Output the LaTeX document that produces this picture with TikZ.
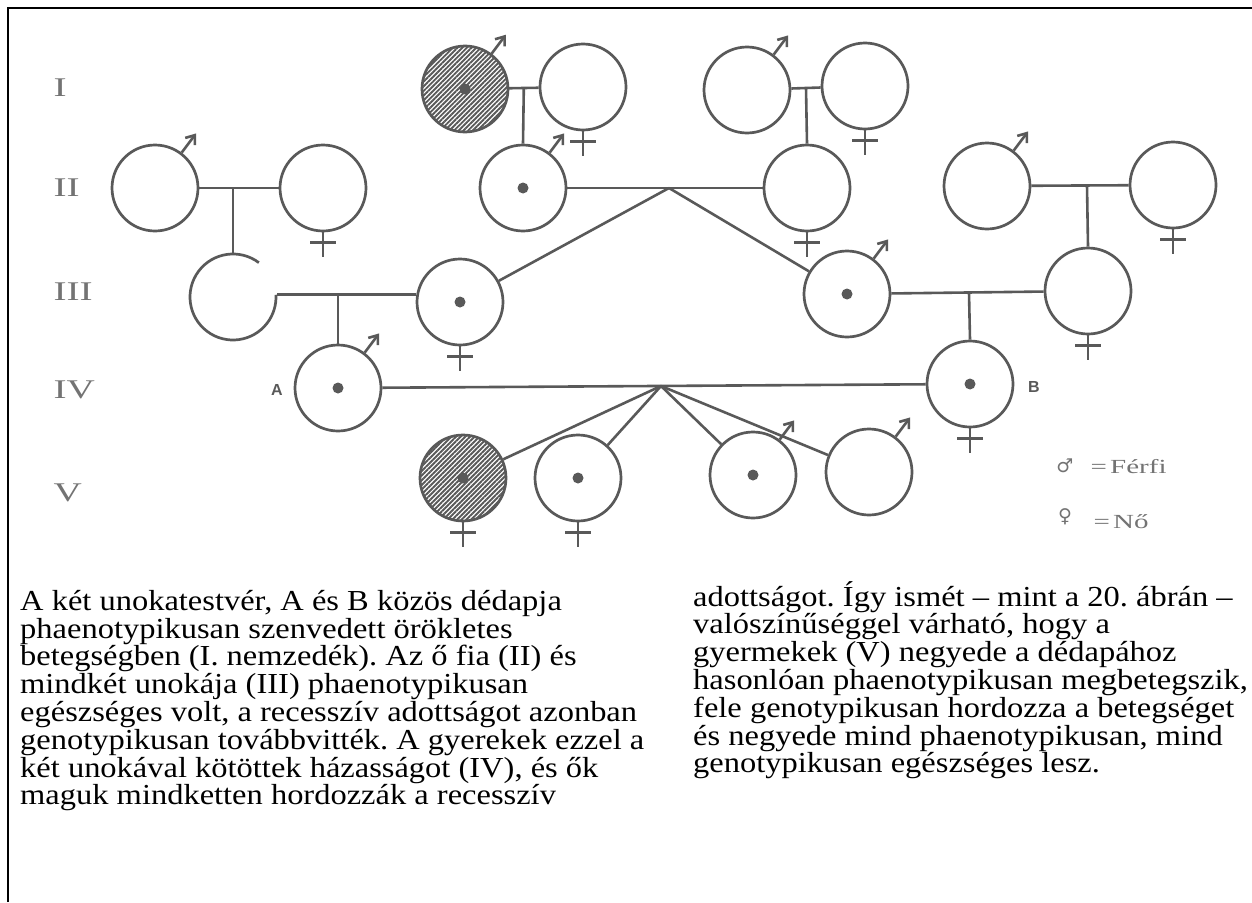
\documentclass[tikz,border=0pt]{standalone}
\usepackage{fontspec}
\setmainfont{Liberation Serif}
\newfontfamily\bodyfont[FakeStretch=1.12]{Liberation Serif}
\newfontfamily\figfont[FakeStretch=1.45]{Liberation Serif}
\newfontfamily\letterfont{Liberation Sans}
\newfontfamily\markfont{DejaVu Sans}
\usetikzlibrary{arrows.meta, patterns.meta, calc}
\definecolor{linegrey}{gray}{0.35}
\definecolor{labelgrey}{gray}{0.45}
\tikzset{
    person/.style = {circle, draw=linegrey, line width=2.7pt, minimum size=86pt, inner sep=0pt},
    affected/.style = {person, pattern={Lines[angle=45, distance=3.3pt, line width=1.9pt]}, pattern color=linegrey},
    link/.style = {draw=linegrey, line width=2.6pt},
    sexmark/.style = {draw=linegrey, line width=2.6pt},
    generation/.style = {anchor=west, text=labelgrey, font=\figfont\fontsize{27}{27}\selectfont},
    letter/.style = {text=linegrey, font=\letterfont\bfseries\fontsize{16}{16}\selectfont},
    legend-sign/.style = {text=labelgrey, font=\markfont\fontsize{19}{19}\selectfont},
    legend-text/.style = {anchor=west, text=labelgrey, font=\figfont\fontsize{20}{20}\selectfont},
    body-text/.style = {anchor=north west, align=left, inner sep=0pt, font=\bodyfont\fontsize{29}{27.8}\selectfont\frenchspacing},
}
\newcommand\malemark[1]{\draw[sexmark, -{Straight Barb[length=8pt, width=12pt]}] (#1.53) -- ++(53:24pt);}
\newcommand\femalemark[1]{\draw[sexmark] (#1.south) -- ++(0pt,-25pt);
    \draw[sexmark] ($(#1.south)+(-13pt,-10pt)$) -- ++(26pt,0pt);}
\newcommand\carrier[1]{\fill[linegrey] (#1.center) circle[radius=5.5pt];}

\begin{document}
\begin{tikzpicture}[x=1pt, y=-1pt]
\useasboundingbox (0,0) rectangle (1252,902);
\draw[line width=2.2pt] (8,902) -- (8,8) -- (1252,8);

% generations
\node[generation] (genI) at (50,88) {I};
\node[generation] (genII) at (50,188) {II};
\node[generation] (genIII) at (50,292) {III};
\node[generation] (genIV) at (50,390) {IV};
\node[generation] (genV) at (50,493) {V};

% I
\node[affected] (I1) at (465,89) {};
\node[person] (I2) at (583,87) {};
\node[person] (I3) at (747,90) {};
\node[person] (I4) at (865,86) {};

% II
\node[person] (II1) at (155,188) {};
\node[person] (II2) at (323,188) {};
\node[person] (II3) at (523,188) {};
\node[person] (II4) at (807,188) {};
\node[person] (II5) at (987,186) {};
\node[person] (II6) at (1173,185) {};

% III
\node[person, draw=none] (III1) at (233,297) {};
\draw[linegrey, line width=2.7pt] (III1.center) ++(53:43pt) arc[start angle=53, end angle=363, radius=43pt];
\node[person] (III2) at (460,302) {};
\node[person] (III3) at (847,294) {};
\node[person] (III4) at (1088,291) {};

% IV
\node[person] (IVA) at (338,388) {};
\node[person] (IVB) at (970,384) {};
\node[letter] (labelA) at (277,390) {A};
\node[letter] (labelB) at (1034,387) {B};

% V
\node[affected] (V1) at (463,478) {};
\node[person] (V2) at (578,478) {};
\node[person] (V3) at (753,475) {};
\node[person] (V4) at (869,472) {};

% marriages and descent
\coordinate (m-I12) at ($(I1.east)!0.5!(I2.west)$);
\coordinate (m-I34) at ($(I3.east)!0.5!(I4.west)$);
\coordinate (m-II12) at (233,188);
\coordinate (m-II34) at (669,188);
\coordinate (m-II56) at (1087,186);
\coordinate (m-III12) at (338,295);
\coordinate (m-III34) at (969,293);
\coordinate (m-IV) at (661,386);

\draw[link] (I1) -- (I2);
\draw[link] (m-I12) -- (II3.north);
\draw[link] (I3) -- (I4);
\draw[link] (m-I34) -- (II4.north);
\draw[link] (II1) -- (II2);
\draw[link] (m-II12) -- (III1.north);
\draw[link] (II3) -- (II4);
\draw[link] (m-II34) -- (III2);
\draw[link] (m-II34) -- (III3);
\draw[link] (II5) -- (II6);
\draw[link] (m-II56) -- (III4.north);
\draw[link] (III1.3) -- (III1.3 -| III2.west);
\draw[link] (m-III12) -- (IVA.north);
\draw[link] (III3) -- (III4);
\draw[link] (m-III34) -- (IVB.north);
\draw[link] (IVA) -- (IVB);
\foreach \child in {V1,V2,V3,V4}
    \draw[link] (m-IV) -- (\child);

% carriers
\foreach \p in {I1,II3,III2,III3,IVA,IVB,V1,V2,V3} {\carrier{\p}}

% sex
\foreach \p in {I1,I3,II1,II3,II5,III3,IVA,V3,V4} {\malemark{\p}}
\foreach \p in {I2,I4,II2,II4,II6,III2,III4,IVB,V1,V2} {\femalemark{\p}}

% legend
\node[legend-sign] (sign-m) at (1065,466) {♂};
\node[legend-text] (text-m) at (1087,467) {=\,Férfi};
\node[legend-sign] (sign-f) at (1065,517) {♀};
\node[legend-text] (text-f) at (1090,522) {=\,Nő};

% text
\node[body-text] (col-left) at (20,590) {A két unokatestvér, A és B közös dédapja\\
phaenotypikusan szenvedett örökletes\\
betegségben (I. nemzedék). Az ő fia (II) és\\
mindkét unokája (III) phaenotypikusan\\
egészséges volt, a recesszív adottságot azonban\\
genotypikusan továbbvitték. A gyerekek ezzel a\\
két unokával kötöttek házasságot (IV), és ők\\
maguk mindketten hordozzák a recesszív};
\node[body-text] (col-right) at (693,581) {adottságot. Így ismét – mint a 20. ábrán –\\
valószínűséggel várható, hogy a\\
gyermekek (V) negyede a dédapához\\
hasonlóan phaenotypikusan megbetegszik,\\
fele genotypikusan hordozza a betegséget\\
és negyede mind phaenotypikusan, mind\\
genotypikusan egészséges lesz.};
\end{tikzpicture}
\end{document}
